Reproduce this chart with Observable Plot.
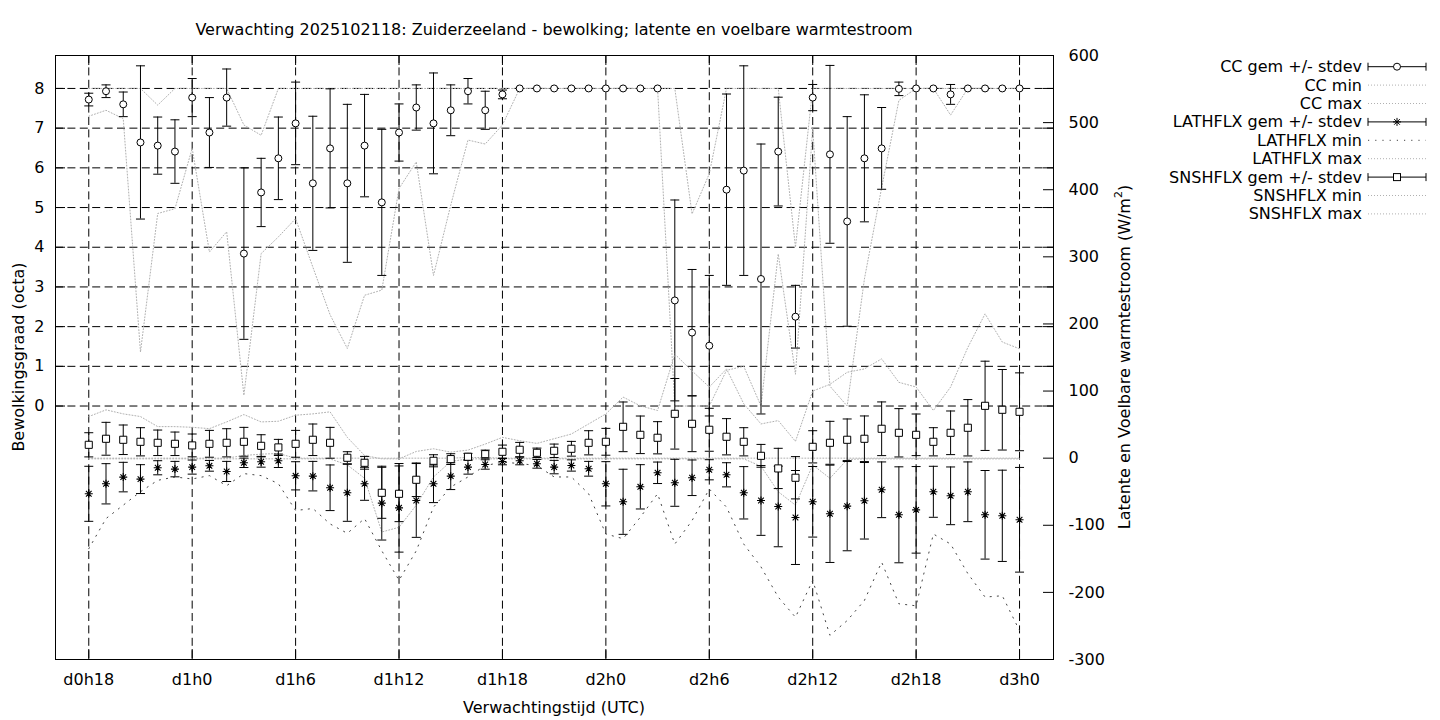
<!DOCTYPE html>
<html><head><meta charset="utf-8">
<script src="https://cdn.jsdelivr.net/npm/d3@7"></script>
<script src="https://cdn.jsdelivr.net/npm/@observablehq/plot@0.6"></script>
<style>
html,body{margin:0;padding:0;background:#fff;overflow:hidden;}
#wrap{position:relative;width:1440px;height:720px;}
#wrap svg{position:absolute;left:0;top:0;}
</style></head><body><div id="wrap"></div>
<script>
// ---- data (hours since d0h0) ----
const hours = [18,19,20,21,22,23,24,25,26,27,28,29,30,31,32,33,34,35,36,37,38,39,40,41,42,43,44,45,
  46,47,48,49,50,51,52,53,54,55,56,57,58,59,60,61,62,63,64,65,66,67,68,69,70,71,72];

const ccMean = [7.72,7.93,7.60,6.64,6.56,6.41, 7.77,6.89,7.77,3.84,5.38,6.24, 7.12,5.61,6.49,5.61,6.56,5.13,
  6.89,7.52,7.12,7.45,7.93,7.45, 7.85,8,8,8,8,8, 8,8,8,8,2.66,1.85, 1.52,5.45,5.93,3.20,6.41,2.25,
  7.77,6.34,4.65,6.24,6.49,7.99, 8,8,7.85,8,8,8, 8];
const ccSd = [0.16,0.16,0.31,1.93,0.72,0.80, 0.48,0.88,0.72,2.16,0.86,1.04, 1.04,1.69,1.50,1.99,1.29,1.84,
  0.72,0.57,1.27,0.64,0.32,0.48, 0.11,0,0,0,0,0, 0,0,0,0,2.53,1.59, 1.77,2.41,2.64,3.40,1.37,0.79,
  0.33,2.24,2.64,1.60,1.03,0.17, 0,0,0.25,0,0,0, 0];
const ccMin = [7.30,7.45,7.24,1.36,4.85,4.97, 6.49,3.88,4.39,0.27,3.84,4.26, 4.72,3.50,2.30,1.45,2.79,2.92,
  5.48,6.15,3.29,5.06,6.70,6.60, 7.08,8,8,8,8,8, 8,8,8,8,0,0, 0,0.9,1.0,0,3.83,0.8,
  7.0,0.5,0,3.2,5.5,7.7, 8,8,7.33,8,8,8, 8];
const ccMax = [8,8,8,8,7.58,8, 8,8,8,7.08,6.82,8, 8,8,8,8,8,8, 8,8,8,8,8,8, 8,8,8,8,8,8,
  8,8,8,8,8,4.84, 5.85,8,8,8,8,4.0, 8,8,8,8,8,8, 8,8,8,8,8,8, 8];

const latMean = [-53.1,-38.2,-28.2,-31.2,-14.3,-16.3, -13.3,-11.4,-19.8,-6.9,-5.4,-3.9, -26.3,-26.8,-44.1,-51.6,-38.2,-67.0,
  -74.0,-63.0,-38.2,-26.8,-13.3,-9.4, -4.9,-3.9,-8.4,-13.3,-10.9,-15.8, -38.2,-65.0,-42.7,-21.8,-36.7,-29.2,
  -17.3,-24.8,-51.6,-63.0,-72.0,-88.4, -65.0,-82.9,-71.5,-63.5,-47.1,-84.4, -77.0,-50.1,-56.1,-50.1,-84.4,-85.9, -91.8];
const latSd = [41,30,22,21.5,10.5,11.5, 10.5,8,15,7,8,10, 21,22,34,42.5,24.6,55,
  66,55,28,20,10.5,7, 5,6,6.5,10,8.4,11, 33,48.5,33,16,35,26.5,
  15,18,39,52,60,70, 52.6,72.5,66.5,57,41.5,71.5, 64.5,38,43,44.5,66,68, 78];
const latMin = [-135,-90,-70,-50,-33,-28, -31,-26,-41,-23,-26,-38, -78,-75,-98,-112,-90,-138,
  -182,-138,-73,-43,-28,-11, -6,-8,-11,-28,-28,-53, -113,-120,-88,-53,-128,-93,
  -46,-73,-128,-162,-207,-237, -182,-264,-242,-212,-155,-217, -220,-113,-128,-172,-207,-205, -257];
const latMax = [0,0,0,0,0,0, 0,0,0,4,6,7, 0,0,0,0,0,0, 0,0,0,0,1,1, 0,0,0,0,0,0,
  0,0,0,0,0,0, 0,0,0,0,0,0, 0,0,0,0,0,0, 0,0,0,0,0,0, 0];

const snsMean = [19.9,28.9,27.4,24.4,22.9,21.4, 19.0,21.4,22.9,24.4,18.4,16.0, 21.4,27.4,22.9,0.6,-6.9,-51.6,
  -53.1,-32.2,-3.9,-1.4,2.1,6.0, 9.5,12.5,8.0,11.0,14.0,22.9, 24.4,46.7,34.8,30.4,66.1,51.2,
  42.3,31.9,24.4,3.5,-15.3,-29.2, 16.9,22.9,27.4,28.9,43.8,37.8, 34.8,24.4,37.8,45.3,78.0,72.1, 69.1];
const snsSd = [18,24.5,22,21,19,17.5, 17,20,21,21.5,16.5,12, 20,23.5,23,9,9.5,38,
  41.5,25,9,8,5,6, 10,11,7,10,11,18, 20,37,28,24,52.6,41.5,
  32,27,21,17,30,31.5, 24,32,31,34,40,36, 31,21,32.5,42,66.5,60, 58];
const snsMin = [-1,-1,-1,-1,-1,-1, -1,-1,-1,-1,-1,-1, -1,-1,-1,-10,-30,-110,
  -103,-70,-28,-5,-1,-1, -1,-1,-1,-1,-1,-1, -1,-1,-1,-1,-1,-1,
  -1,-1,-1,-12,-50,-70, -10,-30,-2,-1,-1,-1, -1,-1,-1,-1,-1,-1, -1];
const snsMax = [62,72,66,62,47,47, 46,44,54,65,54,55, 64,66,69,31,4,-1,
  -1,10,14,9,12,21, 31,26,22,29,36,51, 66,91,78,71,155,130,
  106,133,81,51,56,25, 100,110,128,133,148,113, 106,71,106,165,215,173, 163];

const xTicks = [18,24,30,36,42,48,54,60,66,72];
const xTickLabels = ["d0h18","d1h0","d1h6","d1h12","d1h18","d2h0","d2h6","d2h12","d2h18","d3h0"];
const ccTicks = [0,1,2,3,4,5,6,7,8];
const fluxTicks = [-300,-200,-100,0,100,200,300,400,500,600];

const titleText = "Verwachting 2025102118: Zuiderzeeland - bewolking; latente en voelbare warmtestroom";
const xLabel = "Verwachtingstijd (UTC)";
const yLabel = "Bewolkingsgraad (octa)";
const y2LabelMain = "Latente en Voelbare warmtestroom (W/m";
const y2LabelSup = "2";
const y2LabelEnd = ")";
const legendNames = ["CC gem +/- stdev","CC min","CC max","LATHFLX gem +/- stdev","LATHFLX min","LATHFLX max",
  "SNSHFLX gem +/- stdev","SNSHFLX min","SNSHFLX max"];

// ---- build tables ----
const table = (m, s, lo, hi) => hours.map((h, i) => ({h, mean: m[i], sd: s[i], min: lo[i], max: hi[i]}));
const cc = table(ccMean, ccSd, ccMin, ccMax);
const lat = table(latMean, latSd, latMin, latMax);
const sns = table(snsMean, snsSd, snsMin, snsMax);

const W = 1440, H = 720, mL = 55, mR = 387, mT = 55, mB = 61;
const fw = W - mL - mR, fh = H - mT - mB;
const xDomain = [16.07, 73.97];
const FONT = "DejaVu Sans";
const FS = 16;
const TICK = 10;
const GRID_DASH = "8,4.4";

const capSymbol = {draw(ctx, size) { const r = Math.sqrt(size / Math.PI); ctx.moveTo(-r, 0); ctx.lineTo(r, 0); }};
const starSymbol = {draw(ctx, size) {
  const r = Math.sqrt(size / Math.PI), d = r * Math.SQRT1_2;
  ctx.moveTo(-r, 0); ctx.lineTo(r, 0); ctx.moveTo(0, -r); ctx.lineTo(0, r);
  ctx.moveTo(-d, -d); ctx.lineTo(d, d); ctx.moveTo(-d, d); ctx.lineTo(d, -d);
}};

const light = {stroke: "#b0b0b0", strokeWidth: 1, strokeDasharray: "1,2"};
const sparse = {stroke: "#444", strokeWidth: 1, strokeDasharray: "1.2,6"};
const common = {
  width: W, height: H, marginLeft: mL, marginRight: mR, marginTop: mT, marginBottom: mB,
  style: {fontFamily: FONT, fontSize: FS + "px", color: "black", background: "transparent", overflow: "visible"}
};

function errorMarks(data, pointMark) {
  return [
    Plot.ruleX(data, {x: "h", y1: d => d.mean - d.sd, y2: d => d.mean + d.sd, stroke: "black", strokeWidth: 1}),
    Plot.dot(data, {x: "h", y: d => d.mean - d.sd, symbol: capSymbol, r: 4.5, fill: "none", stroke: "black", strokeWidth: 1}),
    Plot.dot(data, {x: "h", y: d => d.mean + d.sd, symbol: capSymbol, r: 4.5, fill: "none", stroke: "black", strokeWidth: 1}),
    pointMark
  ];
}

const p1 = Plot.plot({
  ...common,
  x: {domain: xDomain},
  y: {domain: [-6.385, 8.83]},
  marks: [
    Plot.gridX(xTicks, {stroke: "black", strokeOpacity: 1, strokeDasharray: GRID_DASH}),
    Plot.gridY(ccTicks, {stroke: "black", strokeOpacity: 1, strokeDasharray: GRID_DASH}),
    Plot.line(cc, {x: "h", y: "min", ...light}),
    Plot.line(cc, {x: "h", y: "max", ...light}),
    ...errorMarks(cc, Plot.dot(cc, {x: "h", y: "mean", r: 3.5, fill: "white", stroke: "black", strokeWidth: 1})),
    Plot.axisY(ccTicks, {anchor: "left", tickSize: 0, tickPadding: 11, label: null, fontSize: FS,
      tickFormat: d => String(d)}),
    Plot.ruleY(ccTicks, {insetRight: fw - TICK, stroke: "black"}),
    Plot.ruleY(ccTicks, {insetLeft: fw - TICK, stroke: "black"}),
    Plot.axisX(xTicks, {anchor: "bottom", tickSize: 0, tickPadding: 14, label: null, fontSize: FS,
      tickFormat: d => xTickLabels[xTicks.indexOf(d)]}),
    Plot.ruleX(xTicks, {insetTop: fh - TICK, stroke: "black"}),
    Plot.ruleX(xTicks, {insetBottom: fh - TICK, stroke: "black"})
  ]
});

const p2 = Plot.plot({
  ...common,
  x: {domain: xDomain, axis: null},
  y: {domain: [-300, 600]},
  marks: [
    Plot.line(lat, {x: "h", y: "min", ...sparse}),
    Plot.line(lat, {x: "h", y: "max", ...light}),
    Plot.line(sns, {x: "h", y: "min", ...light}),
    Plot.line(sns, {x: "h", y: "max", ...light}),
    ...errorMarks(lat, Plot.dot(lat, {x: "h", y: "mean", r: 4, symbol: starSymbol, fill: "none", stroke: "black", strokeWidth: 1.1})),
    ...errorMarks(sns, Plot.dot(sns, {x: "h", y: "mean", r: 4, symbol: "square", fill: "white", stroke: "black", strokeWidth: 1})),
    Plot.axisY(fluxTicks, {anchor: "right", tickSize: 0, tickPadding: 15, label: null, fontSize: FS,
      tickFormat: d => String(d)}),
    Plot.ruleY(fluxTicks, {insetLeft: fw - TICK, stroke: "black"}),
    Plot.frame({stroke: "black", strokeWidth: 1})
  ]
});

const wrap = document.getElementById("wrap");
wrap.appendChild(p1);
wrap.appendChild(p2);

// ---- title, axis titles and legend ----
const svg = d3.select(wrap).append("svg").attr("width", W).attr("height", H)
  .style("font-family", FONT).style("font-size", FS + "px").style("pointer-events", "none");
svg.append("text").attr("x", mL + fw / 2).attr("y", 29).attr("text-anchor", "middle")
  .attr("dominant-baseline", "central").text(titleText);
svg.append("text").attr("x", mL + fw / 2).attr("y", 707).attr("text-anchor", "middle")
  .attr("dominant-baseline", "central").text(xLabel);
svg.append("text").attr("transform", `translate(18,${mT + fh / 2}) rotate(-90)`).attr("text-anchor", "middle")
  .attr("dominant-baseline", "central").text(yLabel);
const y2t = svg.append("text").attr("transform", `translate(1124,${mT + fh / 2}) rotate(-90)`).attr("text-anchor", "middle")
  .attr("dominant-baseline", "central");
y2t.append("tspan").text(y2LabelMain);
y2t.append("tspan").attr("dy", -6).attr("font-size", 11).text(y2LabelSup);
y2t.append("tspan").attr("dy", 6).text(y2LabelEnd);

const lg = svg.append("g");
const lx1 = 1368, lx2 = 1426, lmx = 1397, lTextX = 1362, ly0 = 66.7, lstep = 18.4;
legendNames.forEach((name, i) => {
  const y = ly0 + i * lstep;
  lg.append("text").attr("x", lTextX).attr("y", y).attr("text-anchor", "end")
    .attr("dominant-baseline", "central").text(name);
  const kind = i % 3;
  if (kind === 0) {
    lg.append("line").attr("x1", lx1).attr("x2", lx2).attr("y1", y).attr("y2", y).attr("stroke", "black");
    lg.append("line").attr("x1", lx1).attr("x2", lx1).attr("y1", y - 4).attr("y2", y + 4).attr("stroke", "black");
    lg.append("line").attr("x1", lx2).attr("x2", lx2).attr("y1", y - 4).attr("y2", y + 4).attr("stroke", "black");
    const series = i / 3;
    if (series === 0) {
      lg.append("circle").attr("cx", lmx).attr("cy", y).attr("r", 3.5).attr("fill", "white").attr("stroke", "black");
    } else if (series === 1) {
      lg.append("path").attr("transform", `translate(${lmx},${y})`)
        .attr("d", d3.symbol().type(starSymbol).size(Math.PI * 16)()).attr("fill", "none").attr("stroke", "black");
    } else {
      lg.append("rect").attr("x", lmx - 3.5).attr("y", y - 3.5).attr("width", 7).attr("height", 7)
        .attr("fill", "white").attr("stroke", "black");
    }
  } else {
    const st = (i === 4) ? sparse : light;
    lg.append("line").attr("x1", lx1).attr("x2", lx2).attr("y1", y).attr("y2", y)
      .attr("stroke", st.stroke).attr("stroke-dasharray", st.strokeDasharray);
  }
});
</script>
</body></html>
